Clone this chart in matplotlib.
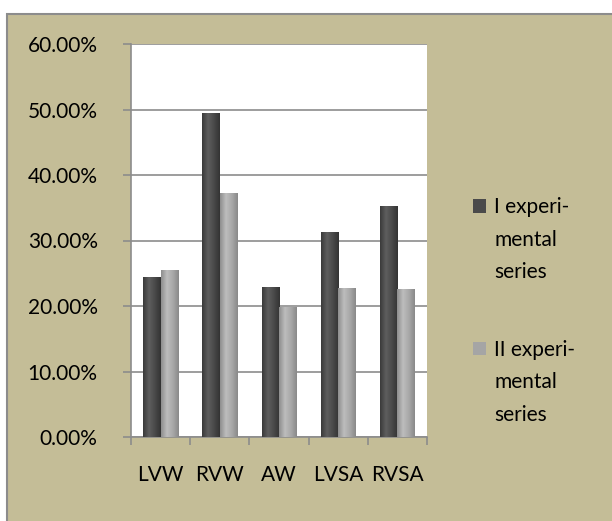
import numpy as np
import matplotlib.pyplot as plt
from matplotlib.patches import Rectangle
from matplotlib.colors import LinearSegmentedColormap

categories = ["LVW", "RVW", "AW", "LVSA", "RVSA"]
series_1 = [24.5, 49.4, 22.9, 31.3, 35.2]
series_2 = [25.5, 37.3, 19.9, 22.8, 22.6]
labels_1 = ["I experi-", "mental", "series"]
labels_2 = ["II experi-", "mental", "series"]
yticks = [0, 10, 20, 30, 40, 50, 60]

plt.rcParams['font.family'] = ['Lato', 'DejaVu Sans']
FS = 15

fig = plt.figure(figsize=(6.12, 5.21), dpi=100, facecolor="white")
bg = Rectangle((7 / 612, -0.05), 1.1, 1.05 - 14 / 521, transform=fig.transFigure,
               facecolor="#c4bd97", edgecolor="#8c8c8c", lw=1.5, zorder=-5)
fig.patches.append(bg)

ax = fig.add_axes([131 / 612, 84 / 521, 296 / 612, 393 / 521])
ax.set_facecolor("white")

x = np.arange(len(categories))
w = 0.295
b1 = ax.bar(x - w / 2, series_1, w, color="#4a4a4a", zorder=3)
b2 = ax.bar(x + w / 2, series_2, w, color="#a5a5a5", zorder=3)

# soft cylinder-like shading on the bars
dark = LinearSegmentedColormap.from_list("d", ["#3a3a3a", "#5e5e5e", "#4a4a4a", "#333333"])
light = LinearSegmentedColormap.from_list("l", ["#8e8e8e", "#bdbdbd", "#a8a8a8", "#8a8a8a"])
grad = np.linspace(0, 1, 64).reshape(1, -1)
for bars, cm in ((b1, dark), (b2, light)):
    for p in bars:
        x0, y0 = p.get_x(), p.get_y()
        im = ax.imshow(grad, cmap=cm, aspect="auto", zorder=4,
                       extent=(x0, x0 + p.get_width(), y0, y0 + p.get_height()))
        im.set_clip_path(p)

ax.set_xlim(-0.5, len(categories) - 0.5)
ax.set_ylim(0, 60)
ax.set_yticks(yticks)
ax.set_yticklabels([f"{v:.2f}%" for v in yticks], fontsize=FS)
ax.set_xticks(x)
ax.set_xticklabels(categories, fontsize=FS)
ax.set_xticks(np.arange(len(categories) + 1) - 0.5, minor=True)
ax.tick_params(axis="x", which="major", length=0, pad=20)
ax.tick_params(axis="x", which="minor", length=6, color="#8c8c8c", width=1.2)
ax.tick_params(axis="y", length=6, color="#8c8c8c", width=1.2, pad=18)
ax.yaxis.grid(True, color="#8c8c8c", lw=1.2, zorder=1)
ax.set_axisbelow(True)
for s in ("top", "right"):
    ax.spines[s].set_visible(False)
for s in ("left", "bottom"):
    ax.spines[s].set_color("#8c8c8c")
    ax.spines[s].set_linewidth(1.2)

blank = Rectangle((0, 0), 1, 1, visible=False)
kw = dict(loc="upper left", frameon=False, fontsize=FS, handlelength=0.6,
          handleheight=0.6, handletextpad=0.4, labelspacing=0.6,
          borderpad=0, borderaxespad=0)
leg1 = ax.legend([b1, blank, blank], labels_1, bbox_to_anchor=(1.157, 0.61), **kw)
ax.add_artist(leg1)
ax.legend([b2, blank, blank], labels_2, bbox_to_anchor=(1.157, 0.247), **kw)

fig.savefig("out.png", dpi=100, facecolor=fig.get_facecolor())
